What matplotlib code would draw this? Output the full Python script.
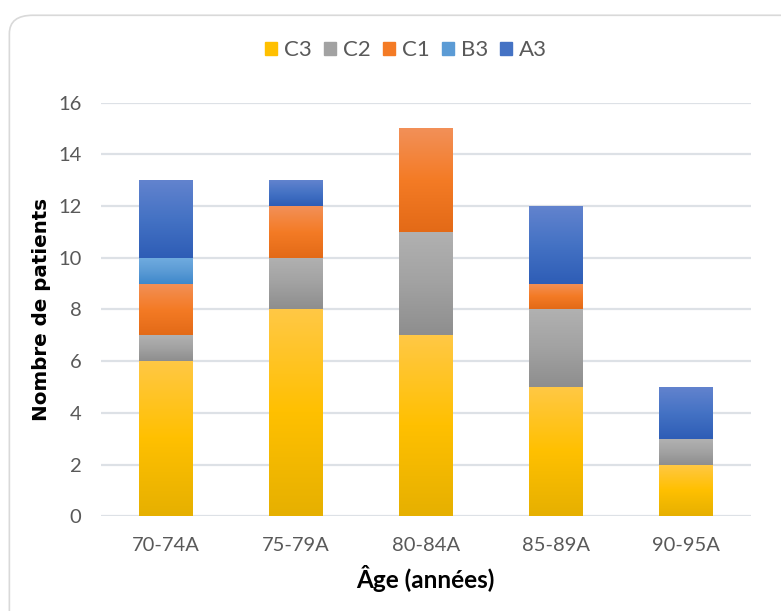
import numpy as np
import matplotlib
matplotlib.use('Agg')
import matplotlib.pyplot as plt
from matplotlib.colors import LinearSegmentedColormap
from matplotlib.patches import FancyBboxPatch

plt.rcParams['font.family'] = ['Lato', 'DejaVu Sans']

# ── Data ─────────────────────────────────────────────────────────────────────
groups = ['70-74A', '75-79A', '80-84A', '85-89A', '90-95A']
series = ['C3', 'C2', 'C1', 'B3', 'A3']
c3 = [6, 8, 7, 5, 2]
c2 = [1, 2, 4, 3, 1]
c1 = [2, 2, 4, 1, 0]
b3 = [1, 0, 0, 0, 0]
a3 = [3, 1, 0, 3, 2]
values = [c3, c2, c1, b3, a3]

# top / middle / bottom colours of each gradient
GRAD = {
    'C3': ['#FFC845', '#FFC000', '#E6B000'],
    'C2': ['#B1B1B1', '#A2A2A2', '#8E8E8E'],
    'C1': ['#F29058', '#F47B25', '#E36A17'],
    'B3': ['#6FABDF', '#5B9BD5', '#3E88CB'],
    'A3': ['#6283CE', '#4472C4', '#2E5DB6'],
}
TXT = '#595959'

fig = plt.figure(figsize=(7.81, 6.11), dpi=100)
frame = FancyBboxPatch((0.012, -0.05), 1.1, 1.025,
                       boxstyle='round,pad=0,rounding_size=0.03',
                       transform=fig.transFigure, facecolor='white',
                       edgecolor='#D9D9D9', linewidth=1.2, zorder=-10)
fig.patches.append(frame)
ax = fig.add_axes([0.129, 0.155, 0.832, 0.677])
ax.set_facecolor('none')

x = np.arange(len(groups))
bottom = np.zeros(len(groups))
handles = []
for name, vals in zip(series, values):
    vals = np.array(vals, dtype=float)
    bars = ax.bar(x, vals, width=0.41, bottom=bottom, color='none',
                  edgecolor='none', zorder=3)
    cmap = LinearSegmentedColormap.from_list(name, GRAD[name][::-1])
    for rect, v in zip(bars, vals):
        if v == 0:
            continue
        x0, y0 = rect.get_x(), rect.get_y()
        grad = np.linspace(0, 1, 128).reshape(-1, 1)
        ax.imshow(grad, cmap=cmap, origin='lower', aspect='auto',
                  extent=(x0, x0 + rect.get_width(), y0, y0 + rect.get_height()),
                  zorder=3, interpolation='bilinear')
    handles.append(plt.Rectangle((0, 0), 1, 1, color=GRAD[name][1]))
    bottom += vals

ax.set_xlim(-0.5, len(groups) - 0.5)
ax.set_ylim(0, 16)
ax.set_yticks(range(0, 17, 2))
ax.set_xticks(x)
ax.set_xticklabels(groups)
ax.grid(axis='y', color='#DDE1E6', linewidth=1.6, zorder=0)
ax.set_axisbelow(True)
for s in ['top', 'right', 'left', 'bottom']:
    ax.spines[s].set_visible(False)
ax.tick_params(axis='both', length=0, colors=TXT, labelsize=14.5)
ax.tick_params(axis='y', pad=14)
ax.tick_params(axis='x', pad=15)
ax.set_ylabel('Nombre de patients', fontsize=14.3, fontweight='bold',
              family='DejaVu Sans', labelpad=5)
ax.set_xlabel('Âge (années)', fontsize=17.5, fontweight='bold', labelpad=8)

fig.legend(handles, series, loc='center', bbox_to_anchor=(0.52, 0.918), ncol=5,
           frameon=False, fontsize=16, labelcolor=TXT, handlelength=0.55,
           handleheight=0.55, handletextpad=0.3, columnspacing=0.55)

plt.savefig('out.png', dpi=100)
